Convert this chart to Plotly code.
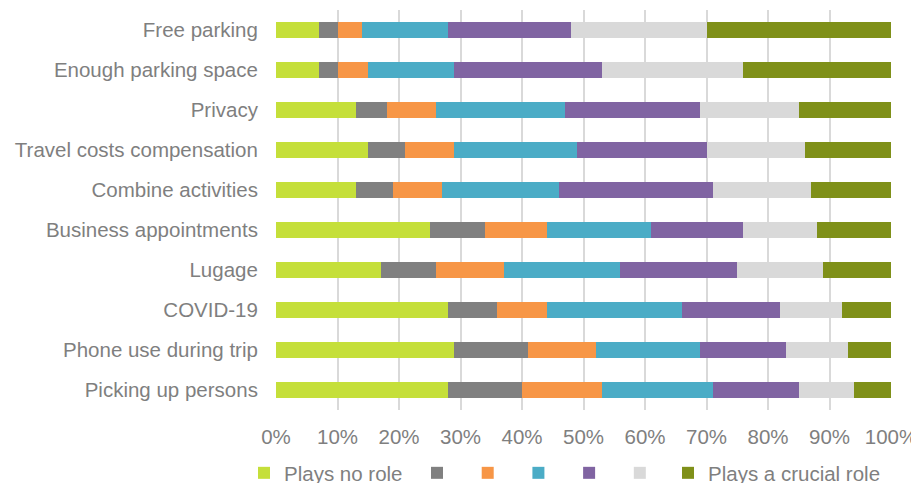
import plotly.graph_objects as go

categories = ["Free parking", "Enough parking space", "Privacy", "Travel costs compensation",
              "Combine activities", "Business appointments", "Lugage", "COVID-19",
              "Phone use during trip", "Picking up persons"]

series_names = ["Plays no role", "\u00a0", "\u00a0", "\u00a0", "\u00a0", "\u00a0", "Plays a crucial role"]

s1 = [7, 7, 13, 15, 13, 25, 17, 28, 29, 28]
s2 = [3, 3, 5, 6, 6, 9, 9, 8, 12, 12]
s3 = [4, 5, 8, 8, 8, 10, 11, 8, 11, 13]
s4 = [14, 14, 21, 20, 19, 17, 19, 22, 17, 18]
s5 = [20, 24, 22, 21, 25, 15, 19, 16, 14, 14]
s6 = [22, 23, 16, 16, 16, 12, 14, 10, 10, 9]
s7 = [30, 24, 15, 14, 13, 12, 11, 8, 7, 6]

series_values = [s1, s2, s3, s4, s5, s6, s7]
colors = ["#C5DF3A", "#808080", "#F79646", "#4BACC6", "#8064A2", "#D9D9D9", "#7F9019"]
legend_groups = ["legend", "legend2", "legend2", "legend2", "legend2", "legend2", "legend3"]

tick_vals = [0, 10, 20, 30, 40, 50, 60, 70, 80, 90, 100]
tick_text = [f"{v}%" for v in tick_vals]

W, H = 911, 475  # page body has an 8px margin

fig = go.Figure()
for name, vals, col, lg in zip(series_names, series_values, colors, legend_groups):
    fig.add_trace(go.Bar(
        y=categories, x=vals, name=name, orientation="h",
        marker=dict(color=col, line=dict(width=0)),
        legend=lg,
        hoverinfo="x+y",
    ))

TXT = "#7F7F7F"
FS = 20.5
legend_common = dict(orientation="h", xref="container", yref="container",
                     yanchor="middle", y=1 - 465/H, xanchor="left",
                     font=dict(size=FS, color=TXT), traceorder="normal",
                     itemclick=False, itemdoubleclick=False,
                     bgcolor="rgba(0,0,0,0)")

fig.update_layout(
    barmode="stack",
    bargap=0.6,
    width=W, height=H,
    margin=dict(l=268, r=28, t=2, b=73, autoexpand=False),
    paper_bgcolor="white", plot_bgcolor="white",
    font=dict(family="Liberation Sans, Arial, sans-serif", size=FS, color=TXT),
    xaxis=dict(range=[0, 100], tickvals=tick_vals, ticktext=tick_text,
               showgrid=True, gridcolor="#D9D9D9", gridwidth=1.5,
               zeroline=False, showline=False, ticks="outside", ticklen=8,
               tickcolor="rgba(0,0,0,0)", automargin=False,
               tickfont=dict(size=FS, color=TXT)),
    yaxis=dict(autorange="reversed", showgrid=False, zeroline=False, showline=False,
               ticks="outside", ticklen=13, tickcolor="rgba(0,0,0,0)", automargin=False,
               tickfont=dict(size=FS, color=TXT)),
    legend=dict(legend_common, x=236 / W),
    legend2=dict(legend_common, x=409 / W),
    legend3=dict(legend_common, x=660 / W),
    showlegend=True,
)

fig.write_html("out.html")
